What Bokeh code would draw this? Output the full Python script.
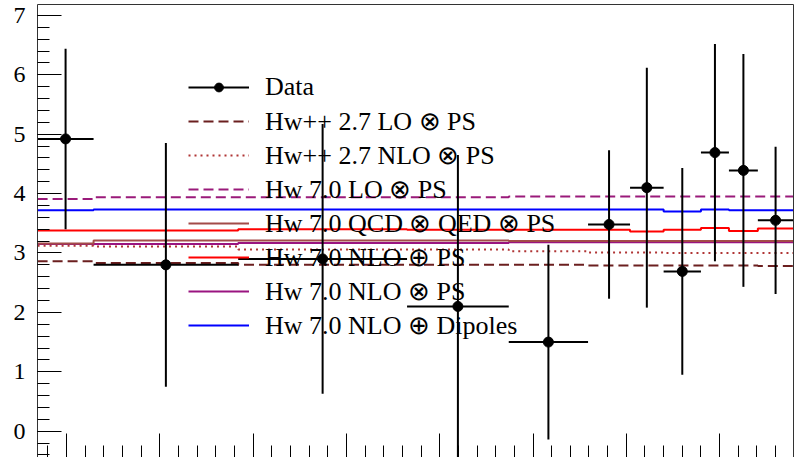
from bokeh.plotting import figure
from bokeh.models import (Range1d, SingleIntervalTicker, FixedTicker, Legend, LegendItem,
                          ColumnDataSource, CustomLabelingPolicy, LinearAxis)
from bokeh.embed import file_html
from bokeh.resources import INLINE

# ---------------- data ----------------
bin_edges = [6.9, 12.9, 28.4, 46.5, 57.4, 65.9, 70.4, 74.0, 78.0, 81.0, 84.1, 87.9]
data_y = [4.92, 2.80, 2.90, 2.10, 1.50, 3.48, 4.10, 2.69, 4.69, 4.39, 3.55]
data_err = [1.52, 2.05, 2.27, 2.55, 1.64, 1.25, 2.02, 1.74, 1.83, 1.96, 1.24]

hw27_lo = [2.86, 2.83, 2.80, 2.80, 2.80, 2.79, 2.79, 2.79, 2.79, 2.79, 2.78]
hw27_nlo = [3.12, 3.11, 3.06, 3.06, 3.03, 3.01, 3.01, 3.00, 3.00, 3.00, 3.00]
hw70_lo = [3.91, 3.94, 3.94, 3.94, 3.95, 3.95, 3.95, 3.95, 3.95, 3.95, 3.95]
hw70_qcdqed = [3.16, 3.21, 3.21, 3.21, 3.20, 3.20, 3.20, 3.20, 3.20, 3.20, 3.20]
hw70_nlo_plus = [3.38, 3.38, 3.40, 3.39, 3.39, 3.39, 3.36, 3.39, 3.42, 3.37, 3.41]
hw70_nlo_times = [3.15, 3.15, 3.17, 3.17, 3.18, 3.18, 3.18, 3.18, 3.18, 3.18, 3.18]
hw70_dipoles = [3.72, 3.73, 3.73, 3.73, 3.73, 3.73, 3.73, 3.70, 3.73, 3.72, 3.72]

labels = [
    "Data",
    "Hw++ 2.7 LO \u2297 PS",
    "Hw++ 2.7 NLO \u2297 PS",
    "Hw 7.0 LO \u2297 PS",
    "Hw 7.0 QCD \u2297 QED \u2297 PS",
    "Hw 7.0 NLO \u2295 PS",
    "Hw 7.0 NLO \u2297 PS",
    "Hw 7.0 NLO \u2295 Dipoles",
]

FONT = "Liberation Serif"
FRAME = "#333333"

p = figure(width=794, height=457, output_backend="svg", toolbar_location=None,
           x_range=Range1d(6.89, 87.92), y_range=Range1d(-0.443, 7.183),
           min_border_left=37, min_border_right=1, min_border_top=4, min_border_bottom=0)
p.xgrid.visible = False
p.ygrid.visible = False
p.outline_line_color = None
p.background_fill_color = "white"
p.border_fill_color = "white"

# axes
p.yaxis.ticker = SingleIntervalTicker(interval=1, num_minor_ticks=5)
p.yaxis.major_tick_in = 24
p.yaxis.major_tick_out = 0
p.yaxis.minor_tick_in = 12
p.yaxis.minor_tick_out = 0
p.yaxis.major_label_standoff = 12
p.yaxis.major_label_text_font = FONT
p.yaxis.major_label_text_font_size = "24px"
p.yaxis.major_label_text_color = "black"
p.yaxis.axis_line_color = FRAME

p.xaxis.ticker = SingleIntervalTicker(interval=10, num_minor_ticks=5)
p.xaxis.major_tick_in = 24
p.xaxis.major_tick_out = 0
p.xaxis.minor_tick_in = 12
p.xaxis.minor_tick_out = 0
p.xaxis.major_label_standoff = 0
p.xaxis.major_label_text_font_size = "0px"
p.xaxis.major_label_policy = CustomLabelingPolicy(code="""
    const all = [...indices]
    for (const i of all) { indices.unset(i) }
    return indices
""")
p.xaxis.axis_line_color = None

# top and right frame borders (plain axes without ticks)
for side in ("above", "right"):
    ax = LinearAxis(ticker=FixedTicker(ticks=[]), axis_line_color=FRAME,
                    major_tick_line_color=None, minor_tick_line_color=None,
                    major_label_text_font_size="0px", major_label_standoff=0,
                    major_tick_out=0, minor_tick_out=0)
    p.add_layout(ax, side)

# MC step histograms
def step_vals(v):
    return list(v) + [v[-1]]

mc_specs = [
    (hw27_lo, "#6b1f1f", "10 5"),
    (hw27_nlo, "#b03535", "2 4"),
    (hw70_lo, "#9a1a7a", "10 5"),
    (hw70_nlo_times, "#9a1480", "solid"),
    (hw70_qcdqed, "#a34b48", "solid"),
    (hw70_nlo_plus, "#ff0000", "solid"),
    (hw70_dipoles, "#0000ff", "solid"),
]
mc_renderers = []
for vals, col, dash in mc_specs:
    r = p.step(x=bin_edges, y=step_vals(vals), mode="after", line_color=col,
               line_width=2, line_dash=dash)
    mc_renderers.append(r)

# data with error bars
centers = [(a + b) / 2 for a, b in zip(bin_edges[:-1], bin_edges[1:])]
src = ColumnDataSource(dict(
    x=centers, y=data_y,
    x0=bin_edges[:-1], x1=bin_edges[1:],
    ylo=[y - e for y, e in zip(data_y, data_err)],
    yhi=[y + e for y, e in zip(data_y, data_err)],
))
r_v = p.segment(x0="x", y0="ylo", x1="x", y1="yhi", source=src, line_color="black", line_width=2)
r_h = p.segment(x0="x0", y0="y", x1="x1", y1="y", source=src, line_color="black", line_width=2)
r_pt = p.scatter(x="x", y="y", source=src, size=10, color="black")

items = [LegendItem(label=labels[0], renderers=[r_h, r_pt])]
order = [0, 1, 2, 4, 5, 3, 6]  # legend order: LO27, NLO27, LO70, QCDQED, NLO+, NLOx, Dipoles
for lab, idx in zip(labels[1:], order):
    items.append(LegendItem(label=lab, renderers=[mc_renderers[idx]]))

legend = Legend(items=items, location=(151, 115), glyph_width=61, glyph_height=22,
                label_height=34, label_standoff=16, spacing=0, padding=0, margin=0,
                border_line_color=None, background_fill_alpha=0,
                label_text_font=FONT, label_text_font_size="26px",
                label_text_color="black")
legend.level = "underlay"
p.add_layout(legend, "center")

open("out.html", "w").write(file_html(p, INLINE))
